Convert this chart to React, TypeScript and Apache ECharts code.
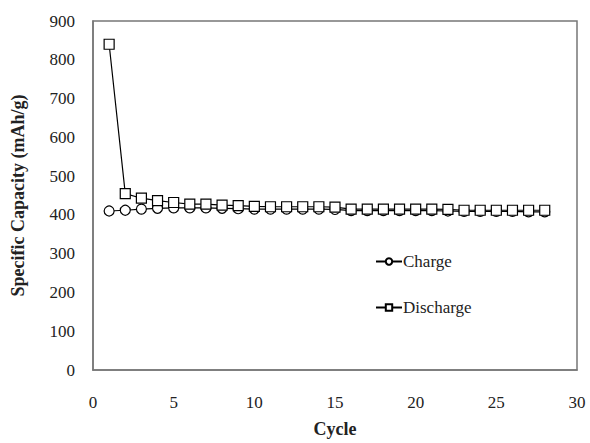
import React, { useEffect, useRef } from "react";
import * as echarts from "echarts";

const cycles = [1,2,3,4,5,6,7,8,9,10,11,12,13,14,15,16,17,18,19,20,21,22,23,24,25,26,27,28];
const chargeValues = [410,412,415,417,418,418,418,417,416,415,415,415,415,415,414,411,411,411,411,411,411,410,409,409,409,409,408,408];
const dischargeValues = [840,455,443,437,432,428,428,425,424,422,421,421,421,421,420,415,415,415,415,415,415,414,412,412,412,412,412,412];
const xTicks = { min: 0, max: 30, interval: 5 };
const yTicks = { min: 0, max: 900, interval: 100 };

export default function App() {
  const ref = useRef<HTMLDivElement>(null);
  useEffect(() => {
    const chart = echarts.init(ref.current!, null, { renderer: "svg" });
    const font = "Times New Roman";
    const mk = (vals: number[]) => cycles.map((c, i) => [c, vals[i]]);
    chart.setOption({
      animation: false,
      backgroundColor: "#fff",
      textStyle: { fontFamily: font },
      grid: { left: 93, right: 13, top: 21, bottom: 73, containLabel: false, show: true, borderColor: "#777", borderWidth: 1.5 },
      xAxis: {
        type: "value", ...xTicks,
        name: "Cycle", nameLocation: "middle", nameGap: 50,
        nameTextStyle: { fontFamily: font, fontWeight: "bold", fontSize: 18, color: "#222" },
        axisLine: { show: true, lineStyle: { color: "#777", width: 1.5 } },
        axisTick: { show: false },
        splitLine: { show: false },
        axisLabel: { fontFamily: font, fontSize: 17, color: "#222", margin: 24 },
      },
      yAxis: {
        type: "value", ...yTicks,
        name: "Specific Capacity (mAh/g)", nameLocation: "middle", nameGap: 66,
        nameTextStyle: { fontFamily: font, fontWeight: "bold", fontSize: 18, color: "#222" },
        axisLine: { show: true, lineStyle: { color: "#777", width: 1.5 } },
        axisTick: { show: false },
        splitLine: { show: false },
        axisLabel: { fontFamily: font, fontSize: 17, color: "#222", margin: 18 },
      },
      legend: {
        orient: "vertical", left: 370, top: 248, itemGap: 29,
        itemWidth: 26, itemHeight: 8,
        textStyle: { fontFamily: font, fontSize: 17, color: "#222", padding: [0, 0, 0, -4] },
        data: ["Charge", "Discharge"],
      },
      series: [
        {
          name: "Charge", type: "line", data: mk(chargeValues),
          symbol: "circle", symbolSize: 10, showAllSymbol: true,
          lineStyle: { color: "#000", width: 1.2 },
          itemStyle: { color: "#fff", borderColor: "#000", borderWidth: 1.2 },
        },
        {
          name: "Discharge", type: "line", data: mk(dischargeValues),
          symbol: "rect", symbolSize: 10, showAllSymbol: true,
          lineStyle: { color: "#000", width: 1.2 },
          itemStyle: { color: "#fff", borderColor: "#000", borderWidth: 1.2 },
        },
      ],
    });
    return () => chart.dispose();
  }, []);
  return <div ref={ref} style={{ width: 590, height: 443, position: "absolute", left: 0, top: 0 }} />;
}
